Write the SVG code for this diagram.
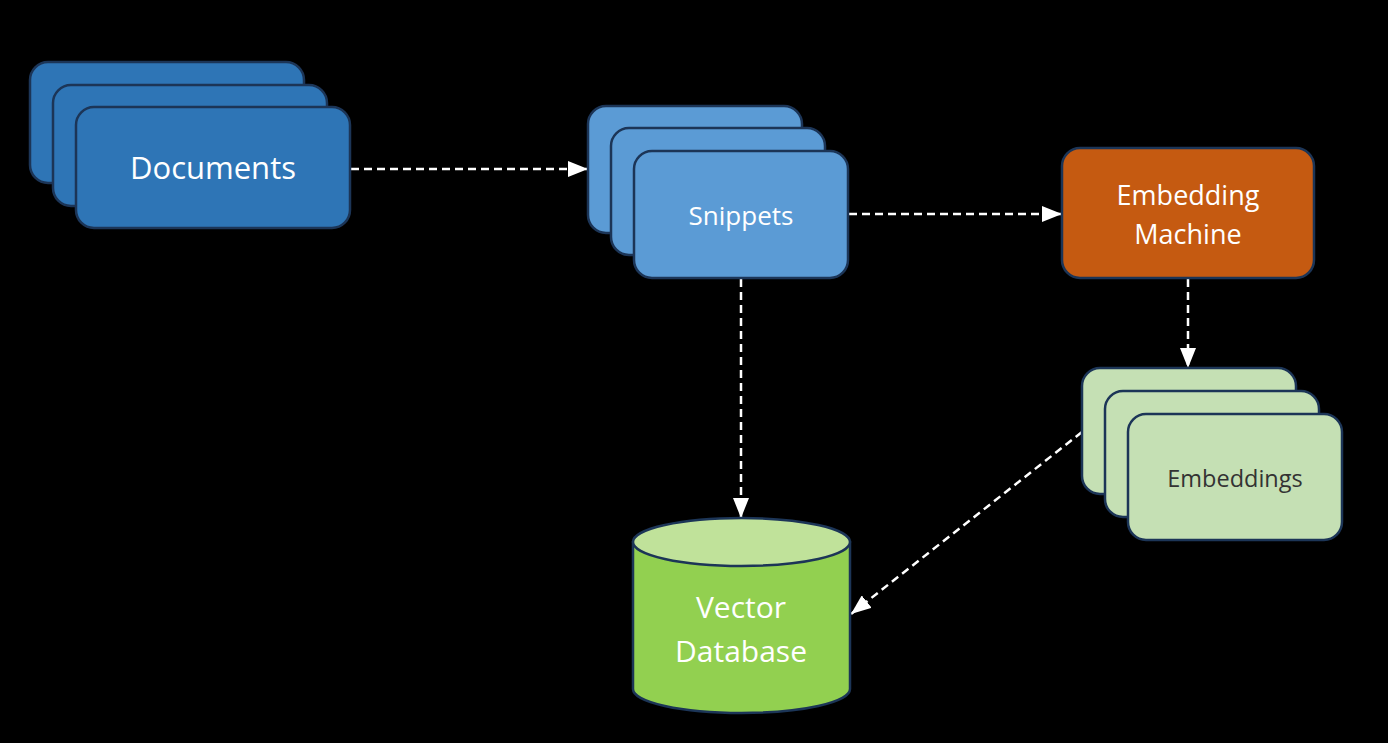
<svg xmlns="http://www.w3.org/2000/svg" width="1388" height="743" viewBox="0 0 1388 743">
<defs>
<style>
.box{stroke:#1c3557;stroke-width:2.5}
.doc{fill:#2e75b6}
.snip{fill:#5b9bd5}
.emb{fill:#c5e0b4}
.mach{fill:#c55a11}
.lbl{font-family:"Open Sans","Noto Sans",sans-serif;fill:#ffffff;text-anchor:middle}
.dark{fill:#333333}
.con{stroke:#ffffff;stroke-width:2.5;stroke-dasharray:8 5;fill:none}
</style>
<marker id="ah" viewBox="0 0 10 10" refX="10" refY="5" markerWidth="20" markerHeight="16" markerUnits="userSpaceOnUse" orient="auto" preserveAspectRatio="none">
<path d="M0,0 L10,5 L0,10 Z" fill="#ffffff"/>
</marker>
</defs>
<rect width="1388" height="743" fill="#000000"/>
<g id="connectors">
<line class="con" x1="351" y1="169" x2="588" y2="169" marker-end="url(#ah)"/>
<line class="con" x1="849" y1="214" x2="1062" y2="214" marker-end="url(#ah)"/>
<line class="con" x1="741" y1="279" x2="741" y2="518" marker-end="url(#ah)"/>
<line class="con" x1="1188" y1="279" x2="1188" y2="368" marker-end="url(#ah)"/>
<line class="con" x1="1082" y1="432" x2="851" y2="614" marker-end="url(#ah)"/>
</g>
<g id="documents">
<rect class="box doc" x="30" y="62" width="274" height="121" rx="18"/>
<rect class="box doc" x="53" y="85" width="274" height="121" rx="18"/>
<rect class="box doc" x="76" y="107" width="274" height="121" rx="18"/>
<text class="lbl" x="213" y="179" font-size="31">Documents</text>
</g>
<g id="snippets">
<rect class="box snip" x="588" y="106" width="214" height="127" rx="18"/>
<rect class="box snip" x="611" y="128" width="214" height="127" rx="18"/>
<rect class="box snip" x="634" y="151" width="214" height="127" rx="18"/>
<text class="lbl" x="741" y="225" font-size="26">Snippets</text>
</g>
<g id="embedding-machine">
<rect class="box mach" x="1062" y="148" width="252" height="130" rx="18"/>
<text class="lbl" x="1188" y="205" font-size="27">Embedding</text>
<text class="lbl" x="1188" y="244" font-size="27">Machine</text>
</g>
<g id="embeddings">
<rect class="box emb" x="1082" y="368" width="214" height="126" rx="18"/>
<rect class="box emb" x="1105" y="391" width="214" height="126" rx="18"/>
<rect class="box emb" x="1128" y="414" width="214" height="126" rx="18"/>
<text class="lbl dark" x="1235" y="487" font-size="23.5">Embeddings</text>
</g>
<g id="vector-database">
<path class="box" fill="#92d050" d="M633,542 L633,689 A108.5,24 0 0 0 850,689 L850,542 Z"/>
<ellipse class="box" fill="#c0e29a" cx="741.5" cy="542" rx="108.5" ry="24"/>
<text class="lbl" x="741" y="618" font-size="30">Vector</text>
<text class="lbl" x="741" y="662" font-size="30">Database</text>
</g>
</svg>
